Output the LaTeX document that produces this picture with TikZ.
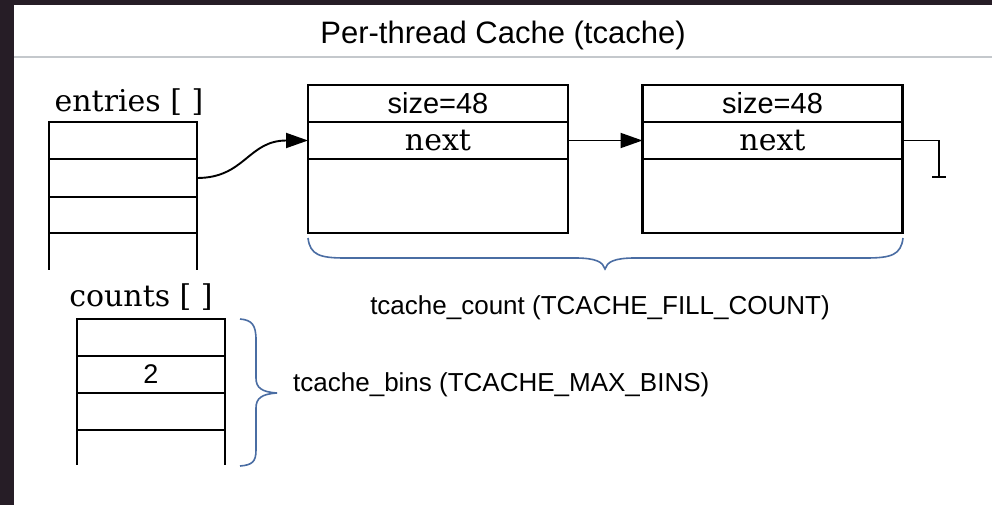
\documentclass[tikz,border=0pt]{standalone}
\usepackage{fontspec}
\setmainfont{Liberation Sans}
\newfontfamily\serifdv{DejaVu Serif}
\usetikzlibrary{arrows.meta}
\definecolor{frame}{HTML}{261D26}
\definecolor{bracec}{HTML}{4A6DA3}
\definecolor{rulec}{HTML}{C4C8CC}
\tikzset{
  cell/.style={draw, line width=2.1pt, minimum width=148pt, minimum height=37pt, inner sep=0pt, outer sep=0pt},
  ocell/.style={line width=2.1pt, minimum width=148pt, minimum height=37pt, inner sep=0pt, outer sep=0pt},
  chunk/.style={draw, line width=2.1pt, minimum width=260pt, inner sep=0pt, outer sep=0pt},
  serlab/.style={font=\serifdv\fontsize{30}{34}\selectfont, inner sep=0pt},
  sanlab/.style={font=\fontsize{26}{30}\selectfont, inner sep=0pt},
  link/.style={line width=1.9pt, -{Triangle[length=22pt,width=15pt]}},
  brc/.style={draw=bracec, line width=1.6pt}
}
\begin{document}
\begin{tikzpicture}[x=1pt,y=-1pt]
\useasboundingbox (0,0) rectangle (992,505);
\fill[white] (0,0) rectangle (992,505);
\fill[frame] (0,0) rectangle (992,5);
\fill[frame] (0,0) rectangle (14,505);
\draw[rulec, line width=1.2pt] (14,57) -- (992,57);
\node[font=\fontsize{31}{36}\selectfont, inner sep=0pt] (title) at (503,35) {Per-thread Cache (tcache)};

% entries array
\node[serlab] (entlab) at (129,102) {entries [ ]};
\node[cell] (e1) at (123,140.5) {};
\node[cell, minimum height=38pt] (e2) at (123,178) {};
\node[cell, minimum height=36pt] (e3) at (123,215) {};
\node[ocell] (e4) at (123,251.5) {};
\draw[line width=2.1pt] (e4.north west) -- (e4.south west) (e4.north east) -- (e4.south east);

% chunk 1
\node[chunk, minimum height=37pt, font=\fontsize{29}{34}\selectfont] (a1) at (438,103.5) {size=48};
\node[chunk, minimum height=37pt, serlab] (a2) at (438,140.5) {next};
\node[chunk, minimum height=74pt] (a3) at (438,196) {};

% chunk 2
\node[chunk, minimum height=37pt, font=\fontsize{29}{34}\selectfont] (b1) at (772.5,103.5) {size=48};
\node[chunk, minimum height=37pt, serlab] (b2) at (772.5,140.5) {next};
\node[chunk, minimum height=74pt] (b3) at (772.5,196) {};

% connectors
\draw[link] (e2.east) .. controls +(48,0) and +(-60,0) .. (a2.west);
\draw[link] (a2.east) -- (b2.west);
\coordinate (nullc) at (939,177);
\draw[line width=1.9pt] (b2.east) -| (nullc);
\draw[line width=1.9pt] ([xshift=-7pt]nullc) -- ([xshift=7pt]nullc);

% bottom brace
\draw[brc] (308,238) .. controls (310,255) and (320,258) .. (345,258) -- (575,258)
  .. controls (596,258) and (603,262) .. (605,269)
  .. controls (607,262) and (614,258) .. (635,258) -- (866,258)
  .. controls (891,258) and (901,255) .. (903,238);
\node[sanlab] (cntlab) at (600,308) {tcache\_count (TCACHE\_FILL\_COUNT)};

% counts array
\node[serlab] (cntarr) at (141,297) {counts [ ]};
\node[cell] (k1) at (151,337.5) {};
\node[cell, font=\fontsize{27}{30}\selectfont] (k2) at (151,374.5) {2};
\node[cell] (k3) at (151,411.5) {};
\node[ocell, minimum height=35pt] (k4) at (151,447.5) {};
\draw[line width=2.1pt] (k4.north west) -- (k4.south west) (k4.north east) -- (k4.south east);

% right brace
\draw[brc] (240,319) .. controls (252,320) and (256,325) .. (256,340) -- (256,378)
  .. controls (256,388) and (262,392) .. (277,393)
  .. controls (262,394) and (256,398) .. (256,408) -- (256,450)
  .. controls (256,462) and (252,465) .. (240,466);
\node[sanlab, anchor=west] (binlab) at (293,385) {tcache\_bins (TCACHE\_MAX\_BINS)};
\end{tikzpicture}
\end{document}
